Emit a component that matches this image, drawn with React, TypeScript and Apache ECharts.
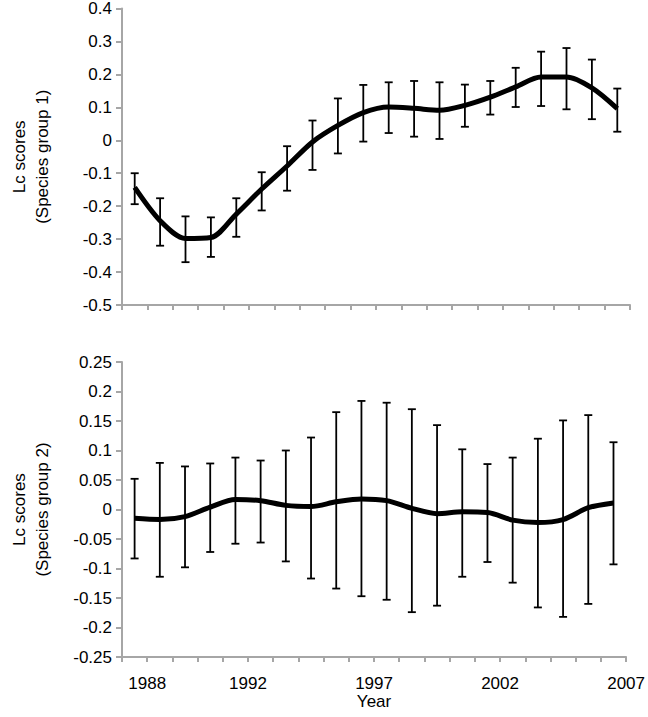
import React, { useEffect, useRef } from 'react';
import * as echarts from 'echarts';

const xPositions = [1987.5, 1988.5, 1989.5, 1990.5, 1991.5, 1992.5, 1993.5, 1994.5, 1995.5, 1996.5, 1997.5, 1998.5, 1999.5, 2000.5, 2001.5, 2002.5, 2003.5, 2004.5, 2005.5, 2006.5];
const xTickLabels = [1988, 1992, 1997, 2002, 2007];

const group1Mean = [-0.143, -0.244, -0.298, -0.295, -0.224, -0.148, -0.078, -0.005, 0.045, 0.084, 0.101, 0.097, 0.091, 0.106, 0.131, 0.162, 0.192, 0.192, 0.159, 0.096];
const group1High = [-0.100, -0.176, -0.231, -0.234, -0.176, -0.097, -0.018, 0.060, 0.127, 0.168, 0.176, 0.180, 0.176, 0.169, 0.180, 0.220, 0.269, 0.280, 0.245, 0.157];
const group1Low = [-0.194, -0.320, -0.370, -0.354, -0.293, -0.213, -0.153, -0.090, -0.040, -0.004, 0.022, 0.011, 0.004, 0.041, 0.078, 0.101, 0.104, 0.094, 0.064, 0.026];

const group2Mean = [-0.015, -0.017, -0.012, 0.004, 0.017, 0.015, 0.007, 0.005, 0.013, 0.018, 0.015, 0.002, -0.007, -0.004, -0.005, -0.018, -0.022, -0.017, 0.003, 0.011];
const group2High = [0.052, 0.079, 0.073, 0.078, 0.088, 0.083, 0.100, 0.122, 0.165, 0.184, 0.181, 0.170, 0.143, 0.102, 0.077, 0.088, 0.120, 0.151, 0.160, 0.114];
const group2Low = [-0.083, -0.114, -0.098, -0.072, -0.058, -0.056, -0.088, -0.117, -0.134, -0.147, -0.153, -0.174, -0.163, -0.114, -0.089, -0.124, -0.166, -0.182, -0.160, -0.093];

const FONT = 'Liberation Sans';
const AXIS_GRAY = '#a6a6a6';
const FS = 17;

function errorBarRender(params: any, api: any) {
  const x = api.value(0);
  const lo = api.value(1);
  const hi = api.value(2);
  const pHi = api.coord([x, hi]);
  const pLo = api.coord([x, lo]);
  const w = 4;
  const style = { stroke: '#000', lineWidth: 1.8 };
  return {
    type: 'group',
    children: [
      { type: 'line', shape: { x1: pHi[0], y1: pHi[1], x2: pLo[0], y2: pLo[1] }, style },
      { type: 'line', shape: { x1: pHi[0] - w, y1: pHi[1], x2: pHi[0] + w, y2: pHi[1] }, style },
      { type: 'line', shape: { x1: pLo[0] - w, y1: pLo[1], x2: pLo[0] + w, y2: pLo[1] }, style },
    ],
  };
}

function fmtY(v: number) {
  const r = Math.round(v * 1000) / 1000;
  return String(r);
}

export default function App() {
  const ref = useRef<HTMLDivElement>(null);
  useEffect(() => {
    if (!ref.current) return;
    const chart = echarts.init(ref.current, undefined, { renderer: 'svg' });
    const xAxisBase = {
      type: 'value',
      min: 1987,
      max: 2007,
      interval: 1,
      axisLine: { show: true, onZero: false, lineStyle: { color: AXIS_GRAY, width: 2 } },
      axisTick: { show: true, length: 5, lineStyle: { color: AXIS_GRAY, width: 2 } },
      splitLine: { show: false },
    };
    const yAxisBase = {
      type: 'value',
      axisLine: { show: true, onZero: false, lineStyle: { color: AXIS_GRAY, width: 2 } },
      axisTick: { show: true, length: 6, lineStyle: { color: AXIS_GRAY, width: 2 } },
      splitLine: { show: false },
      axisLabel: { color: '#000', fontSize: FS, fontFamily: FONT, margin: 10, formatter: fmtY },
      nameLocation: 'middle',
      nameRotate: 90,
      nameGap: 68,
      nameTextStyle: { color: '#000', fontSize: FS, fontFamily: FONT, lineHeight: 23, align: 'center' },
    };
    chart.setOption({
      animation: false,
      backgroundColor: '#fff',
      textStyle: { fontFamily: FONT, fontSize: FS },
      grid: [
        { left: 110, right: 18, top: 8, height: 297 },
        { left: 110, right: 18, top: 362, height: 295 },
      ],
      xAxis: [
        { ...xAxisBase, gridIndex: 0, axisLabel: { show: false } },
        {
          ...xAxisBase,
          gridIndex: 1,
          name: 'Year',
          nameLocation: 'middle',
          nameGap: 35,
          nameTextStyle: { color: '#000', fontSize: FS, fontFamily: FONT },
          axisLabel: {
            color: '#000',
            fontSize: FS,
            fontFamily: FONT,
            margin: 18,
            formatter: (v: number) => (xTickLabels.includes(Math.round(v)) ? String(Math.round(v)) : ''),
          },
        },
      ],
      yAxis: [
        { ...yAxisBase, gridIndex: 0, min: -0.5, max: 0.4, interval: 0.1, name: 'Lc scores\n(Species group 1)' },
        { ...yAxisBase, gridIndex: 1, min: -0.25, max: 0.25, interval: 0.05, name: 'Lc scores\n(Species group 2)' },
      ],
      series: [
        {
          type: 'custom',
          xAxisIndex: 0,
          yAxisIndex: 0,
          renderItem: errorBarRender,
          encode: { x: 0, y: [1, 2] },
          data: xPositions.map((x, i) => [x, group1Low[i], group1High[i]]),
          z: 2,
        },
        {
          type: 'line',
          xAxisIndex: 0,
          yAxisIndex: 0,
          data: xPositions.map((x, i) => [x, group1Mean[i]]),
          smooth: 0.3,
          showSymbol: false,
          lineStyle: { color: '#000', width: 5 },
          z: 3,
        },
        {
          type: 'custom',
          xAxisIndex: 1,
          yAxisIndex: 1,
          renderItem: errorBarRender,
          encode: { x: 0, y: [1, 2] },
          data: xPositions.map((x, i) => [x, group2Low[i], group2High[i]]),
          z: 2,
        },
        {
          type: 'line',
          xAxisIndex: 1,
          yAxisIndex: 1,
          data: xPositions.map((x, i) => [x, group2Mean[i]]),
          smooth: 0.3,
          showSymbol: false,
          lineStyle: { color: '#000', width: 5 },
          z: 3,
        },
      ],
    });
    return () => chart.dispose();
  }, []);
  return <div ref={ref} style={{ position: 'absolute', left: 0, top: 0, width: 648, height: 717 }} />;
}
